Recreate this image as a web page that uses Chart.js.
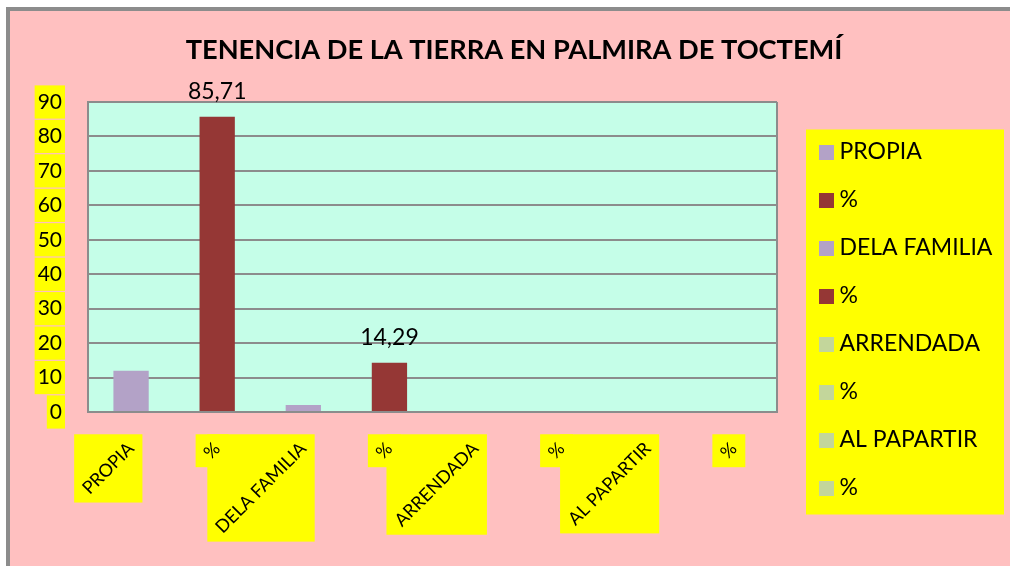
<!DOCTYPE html>
<html><head><meta charset="utf-8">
<script src="https://cdn.jsdelivr.net/npm/chart.js@4/dist/chart.umd.min.js"></script>
<style>
html,body{margin:0;padding:0;background:#fff;width:1010px;height:566px;overflow:hidden;}
#frame{position:absolute;left:6px;top:7px;width:1010px;height:566px;background:#FFC0C0;border-left:4px solid #8C8C8C;border-top:4px solid #8C8C8C;}
#c{position:absolute;left:0;top:0;}
</style></head><body>
<div id="frame"></div>
<canvas id="c" width="1010" height="566"></canvas>
<script>
// ---- data ----
const chartTitle = 'TENENCIA DE LA TIERRA EN PALMIRA DE TOCTEMÍ';
const categories = ['PROPIA', '%', 'DELA FAMILIA', '%', 'ARRENDADA', '%', 'AL PAPARTIR', '%'];
const values = [12, 85.71, 2, 14.29, 0, 0, 0, 0];
const barColors = ['#B3A2C7', '#953735', '#B3A2C7', '#953735', '#C3D69B', '#C3D69B', '#C3D69B', '#C3D69B'];
const yMin = 0, yMax = 90, yStep = 10;

// ---- style ----
const FONT = 'Lato';
const legendFontSize = 23;
const plotBg = '#C5FEE8';
const gridColor = '#8C8C8C';
const yellow = '#FFFF00';

function measure(text, font) {
  const c = document.createElement('canvas').getContext('2d');
  c.font = font;
  return c.measureText(text).width;
}
const widest = Math.max(...categories.map(t => measure(t, 'normal ' + legendFontSize + 'px ' + FONT)));
const y2Width = 23, legendPad = 25, plotRight = 777, plotBottom = 412, padB = 6;
const padR = Math.max(0, 1010 - (plotRight + y2Width + legendPad + 3 + legendFontSize / 2 + widest + 10));
const padL = 18 + padR;
const legendFirstTop = 140.5;

function swatch(color) {
  const c = document.createElement('canvas');
  c.width = 15; c.height = 15;
  const g = c.getContext('2d');
  g.fillStyle = color; g.fillRect(0, 0, 15, 15);
  return c;
}

const decor = {
  id: 'decor',
  beforeDraw(chart) {
    const ctx = chart.ctx, a = chart.chartArea;
    ctx.save();
    ctx.fillStyle = plotBg;
    ctx.fillRect(a.left, a.top, a.right - a.left, a.bottom - a.top);
    // x label boxes
    const xs = chart.scales.x;
    if (xs.getLabelItems) {
      ctx.fillStyle = yellow;
      xs.getLabelItems().forEach(it => {
        const o = it.options;
        const tx = o.translation[0], ty = o.translation[1], r = o.rotation || 0;
        ctx.font = it.font.string;
        const w = ctx.measureText(String(it.label)).width;
        const h = it.font.size;
        const t = it.textOffset;
        let x0 = -w, x1 = 0;
        if (o.textAlign === 'center') { x0 = -w / 2; x1 = w / 2; }
        else if (o.textAlign === 'left') { x0 = 0; x1 = w; }
        const pts = [[x0, t - h / 2], [x1, t - h / 2], [x0, t + h / 2], [x1, t + h / 2]].map(([lx, ly]) =>
          [tx + lx * Math.cos(r) - ly * Math.sin(r), ty + lx * Math.sin(r) + ly * Math.cos(r)]);
        const X = pts.map(p => p[0]), Y = pts.map(p => p[1]);
        const p = 5;
        const l = Math.min(...X) - p, rr = Math.max(...X) + p, tp = Math.min(...Y) - p, b = Math.max(...Y) + p;
        ctx.fillRect(l, tp, rr - l, b - tp);
      });
    }
    // legend box
    const lg = chart.legend;
    if (lg && lg.legendHitBoxes && lg.legendHitBoxes.length) {
      const hb = lg.legendHitBoxes;
      const first = hb[0], last = hb[hb.length - 1];
      const l = first.left - 19, t = first.top - 11;
      const b = last.top + last.height + 15;
      ctx.fillStyle = yellow;
      ctx.fillRect(l, t, 1004 - l, b - t);
    }
    ctx.restore();
  },
  beforeDatasetsDraw(chart) {
    const ctx = chart.ctx, a = chart.chartArea;
    ctx.save();
    ctx.strokeStyle = gridColor; ctx.lineWidth = 2;
    ctx.beginPath();
    ctx.moveTo(Math.round(a.right), a.top); ctx.lineTo(Math.round(a.right), a.bottom);
    ctx.stroke();
    ctx.restore();
  },
  afterDatasetsDraw(chart) {
    const ctx = chart.ctx;
    const meta = chart.getDatasetMeta(0);
    ctx.save();
    ctx.font = 'normal 23px ' + FONT;
    ctx.fillStyle = '#000';
    ctx.textAlign = 'center';
    ctx.textBaseline = 'alphabetic';
    values.forEach((v, i) => {
      if (categories[i] === '%' && v > 0) {
        const el = meta.data[i];
        ctx.fillText(v.toFixed(2).replace('.', ','), el.x, el.y - 18);
      }
    });
    ctx.restore();
  }
};

Chart.defaults.font.family = FONT;
Chart.defaults.color = '#000';

new Chart(document.getElementById('c'), {
  type: 'bar',
  data: {
    labels: categories,
    datasets: [{
      data: values,
      backgroundColor: barColors,
      borderWidth: 0,
      barPercentage: 0.41,
      categoryPercentage: 1.0,
      yAxisID: 'y'
    }]
  },
  options: {
    responsive: false,
    animation: false,
    devicePixelRatio: 1,
    layout: { padding: { left: padL, right: padR, top: 0, bottom: padB } },
    plugins: {
      tooltip: { enabled: false },
      title: {
        display: true,
        text: chartTitle,
        color: '#000',
        font: { family: FONT, size: 27.2, weight: 'bold' },
        padding: { top: 34, bottom: 102 - 34 - 27.2 * 1.2 }
      },
      legend: {
        position: 'right',
        align: 'start',
        maxWidth: 400,
        title: {
          display: true,
          text: ' ',
          font: { size: 10 },
          padding: { top: legendFirstTop - legendPad - 12, bottom: 0 }
        },
        labels: {
          color: '#000',
          font: { family: FONT, size: legendFontSize },
          usePointStyle: true,
          boxWidth: 3,
          boxHeight: 15,
          padding: legendPad,
          generateLabels() {
            return categories.map((t, i) => ({
              text: t, fillStyle: barColors[i], strokeStyle: barColors[i], lineWidth: 0,
              pointStyle: swatch(barColors[i]), hidden: false, index: i
            }));
          }
        }
      }
    },
    scales: {
      x: {
        grid: { display: false, drawTicks: false },
        border: { display: true, color: gridColor, width: 2 },
        ticks: { font: { size: 18 }, color: '#000', minRotation: 45, maxRotation: 45, padding: 26, autoSkip: false },
        afterFit(s) { s.height = (566 - padB) - plotBottom; }
      },
      y: {
        min: yMin, max: yMax,
        grid: { color: gridColor, lineWidth: 2, drawTicks: false },
        border: { display: true, color: gridColor, width: 2 },
        ticks: {
          stepSize: yStep, font: { size: 21 }, color: '#000', padding: 26,
          showLabelBackdrop: true, backdropColor: yellow,
          backdropPadding: { top: 4, bottom: 4, left: 3, right: 3 }
        },
        afterFit(s) { s.width = 88 - padL; }
      },
      y2: {
        position: 'right',
        display: true,
        grid: { display: false, drawTicks: false },
        border: { display: false },
        ticks: { display: false },
        afterFit(s) { s.width = y2Width; }
      }
    }
  },
  plugins: [decor]
});
</script>
</body></html>
